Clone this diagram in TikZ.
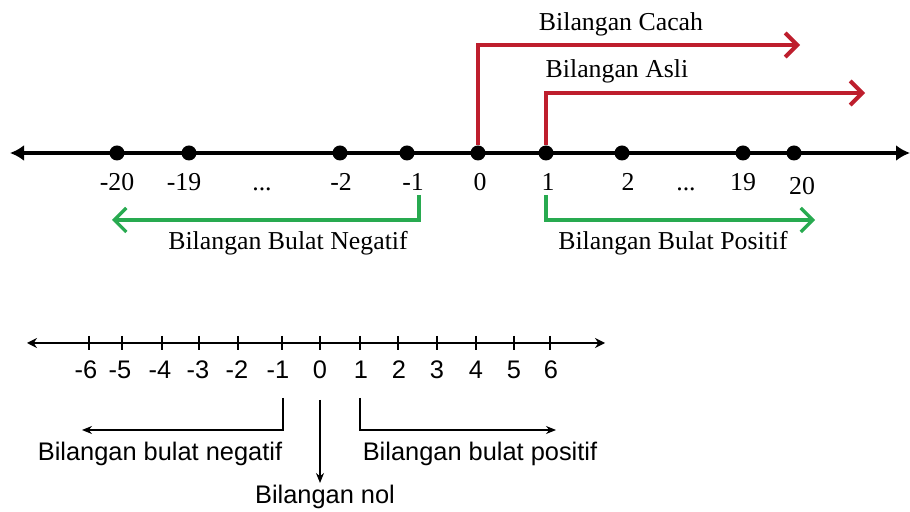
\documentclass[tikz,border=0pt]{standalone}
\usepackage{fontspec}
\setmainfont{Liberation Serif}
\newfontfamily\arialfont{Liberation Sans}
\usetikzlibrary{arrows.meta}
\definecolor{setred}{RGB}{190,30,45}
\definecolor{setgreen}{RGB}{40,170,80}
\tikzset{
  dot/.style={circle,fill,inner sep=0pt,minimum size=7.5pt},
  lbl/.style={font=\fontsize{12.9}{15}\selectfont,inner sep=0pt,anchor=base},
  sanslbl/.style={font=\arialfont\fontsize{12.7}{15}\selectfont,inner sep=0pt,anchor=base},
  thickaxis/.style={line width=2pt,{Latex[length=7pt,width=8pt]}-{Latex[length=7pt,width=8pt]}},
  thinaxis/.style={line width=0.6pt,{Stealth[length=5pt,width=5pt]}-{Stealth[length=5pt,width=5pt]}},
  tick/.style={line width=0.6pt},
  redset/.style={draw=setred,line width=2pt,-{Straight Barb[length=6pt,width=12pt]}},
  greenset/.style={draw=setgreen,line width=1.6pt,-{Straight Barb[length=6pt,width=12pt]}},
  thinset/.style={line width=0.6pt,-{Stealth[length=5pt,width=4pt]}}
}
\begin{document}
\begin{tikzpicture}[x=0.5pt,y=-0.5pt]
  \useasboundingbox (0,0) rectangle (910,512);

  % top number line
  \coordinate (Lend) at (10,153);
  \coordinate (Rend) at (910,153);
  \draw[thickaxis] (Lend) -- (Rend);
  \node[dot] (dm20) at (117,153) {};
  \node[dot] (dm19) at (189,153) {};
  \node[dot] (dm2) at (340,153) {};
  \node[dot] (dm1) at (407,153) {};
  \node[dot] (d0) at (478,153) {};
  \node[dot] (d1) at (546,153) {};
  \node[dot] (d2) at (622,153) {};
  \node[dot] (d19) at (743,153) {};
  \node[dot] (d20) at (794,153) {};

  \node[lbl] (lm20) at (117,191) {-20};
  \node[lbl] (lm19) at (184,191) {-19};
  \node[lbl] (ldotsl) at (262,191) {...};
  \node[lbl] (lm2) at (341,191) {-2};
  \node[lbl] (lm1) at (413,191) {-1};
  \node[lbl] (l0) at (480,191) {0};
  \node[lbl] (l1) at (548,191) {1};
  \node[lbl] (l2) at (628,191) {2};
  \node[lbl] (ldotsr) at (686,191) {...};
  \node[lbl] (l19) at (743,191) {19};
  \node[lbl] (l20) at (802,195) {20};

  % red sets
  \coordinate (cacahend) at (800,45);
  \coordinate (asliend) at (865,93);
  \draw[redset] (d0.north) |- (cacahend);
  \draw[redset] (d1.north) |- (asliend);
  \node[lbl] (cacah) at (621,31) {Bilangan Cacah};
  \node[lbl] (asli) at (617,78) {Bilangan Asli};

  % green sets
  \coordinate (negtop) at (419,195);
  \coordinate (negend) at (112,220);
  \coordinate (postop) at (546,195);
  \coordinate (posend) at (815,220);
  \draw[greenset] (negtop) |- (negend);
  \draw[greenset] (postop) |- (posend);
  \node[lbl] (neg) at (288,250) {Bilangan Bulat Negatif};
  \node[lbl] (pos) at (673,250) {Bilangan Bulat Positif};

  % bottom number line
  \coordinate (Bl) at (27,343);
  \coordinate (Br) at (605,343);
  \draw[thinaxis] (Bl) -- (Br);
  \draw[tick] (89,336) -- (89,350);
  \draw[tick] (122,336) -- (122,350);
  \draw[tick] (162,336) -- (162,350);
  \draw[tick] (199,336) -- (199,350);
  \draw[tick] (238,336) -- (238,350);
  \draw[tick] (282,336) -- (282,350);
  \draw[tick] (320,336) -- (320,350);
  \draw[tick] (360,336) -- (360,350);
  \draw[tick] (398,336) -- (398,350);
  \draw[tick] (437,336) -- (437,350);
  \draw[tick] (476,336) -- (476,350);
  \draw[tick] (514,336) -- (514,350);
  \draw[tick] (550,336) -- (550,350);

  \node[sanslbl] (bm6) at (86,379) {-6};
  \node[sanslbl] (bm5) at (120,379) {-5};
  \node[sanslbl] (bm4) at (160,379) {-4};
  \node[sanslbl] (bm3) at (198,379) {-3};
  \node[sanslbl] (bm2) at (237,379) {-2};
  \node[sanslbl] (bm1) at (278,379) {-1};
  \node[sanslbl] (b0) at (320,379) {0};
  \node[sanslbl] (b1) at (361,379) {1};
  \node[sanslbl] (b2) at (399,379) {2};
  \node[sanslbl] (b3) at (437,379) {3};
  \node[sanslbl] (b4) at (476,379) {4};
  \node[sanslbl] (b5) at (514,379) {5};
  \node[sanslbl] (b6) at (551,379) {6};

  \coordinate (bnegtop) at (283,398);
  \coordinate (bnegend) at (82,430);
  \coordinate (bpostop) at (360,398);
  \coordinate (bposend) at (556,430);
  \coordinate (bnoltop) at (320,400);
  \coordinate (bnolend) at (320,483);
  \draw[thinset] (bnegtop) |- (bnegend);
  \draw[thinset] (bpostop) |- (bposend);
  \draw[thinset] (bnoltop) -- (bnolend);
  \node[sanslbl] (bneg) at (160,461) {Bilangan bulat negatif};
  \node[sanslbl] (bpos) at (480,461) {Bilangan bulat positif};
  \node[sanslbl] (bnol) at (325,504) {Bilangan nol};
\end{tikzpicture}
\end{document}
